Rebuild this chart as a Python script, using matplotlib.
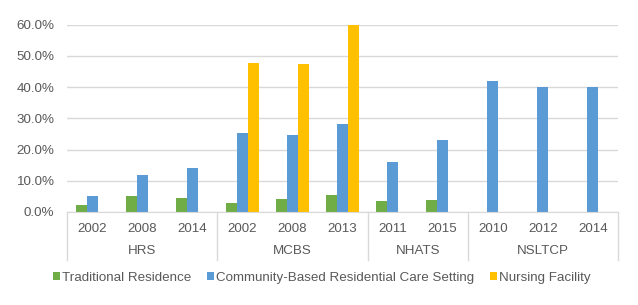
import matplotlib
matplotlib.use("Agg")
import matplotlib.pyplot as plt
from matplotlib.patches import Patch
from matplotlib.lines import Line2D
import numpy as np

plt.rcParams['font.family'] = ['Liberation Sans', 'DejaVu Sans']

years = ["2002", "2008", "2014", "2002", "2008", "2013", "2011", "2015", "2010", "2012", "2014"]
groups = ["HRS", "MCBS", "NHATS", "NSLTCP"]
group_sizes = [3, 3, 2, 3]
series_names = ["Traditional Residence", "Community-Based Residential Care Setting", "Nursing Facility"]
traditional = [2.1, 5.0, 4.4, 3.0, 4.2, 5.6, 3.6, 3.8, np.nan, np.nan, np.nan]
community = [5.0, 11.7, 14.0, 25.2, 24.8, 28.1, 16.1, 23.0, 41.9, 40.0, 40.0]
nursing = [np.nan, np.nan, np.nan, 47.7, 47.3, 60.0, np.nan, np.nan, np.nan, np.nan, np.nan]
colors = ["#70ad47", "#5b9bd5", "#ffc000"]
yticks = [0, 10, 20, 30, 40, 50, 60]

FS = 9.6
fig = plt.figure(figsize=(6.38, 3.05), dpi=100)
W, H = 638, 305
left, right, top, bottom = 67, 618, 24.7, 212
ax = fig.add_axes([left / W, 1 - bottom / H, (right - left) / W, (bottom - top) / H])

x = np.arange(len(years))
w = 0.22
for k, (vals, c) in enumerate(zip([traditional, community, nursing], colors)):
    ax.bar(x + (k - 1) * w, np.array(vals, dtype=float) / 100, width=w, color=c, zorder=3)

ax.set_xlim(-0.5, len(years) - 0.5)
ax.set_ylim(0, 0.6)
ax.set_yticks([v / 100 for v in yticks])
ax.set_yticklabels([f"{v:.1f}%" for v in yticks])
ax.tick_params(axis='y', length=0, labelsize=FS, colors="#595959", pad=9)
ax.set_xticks([])
ax.grid(axis='y', color="#d9d9d9", linewidth=1, zorder=0)
for s in ["left", "right", "top"]:
    ax.spines[s].set_visible(False)
ax.spines["bottom"].set_color("#d9d9d9")
ax.spines["bottom"].set_zorder(4)

ah = bottom - top
trans = ax.get_xaxis_transform()
for i, yr in enumerate(years):
    ax.text(i, -(228.5 - bottom) / ah, yr, transform=trans, ha='center', va='center',
            fontsize=FS, color="#595959")
start = 0
bounds = [0]
for g, n in zip(groups, group_sizes):
    center = start + (n - 1) / 2
    ax.text(center, -(251.5 - bottom) / ah, g, transform=trans, ha='center', va='center',
            fontsize=FS, color="#595959")
    start += n
    bounds.append(start)
for b in bounds:
    ax.add_line(Line2D([b - 0.5, b - 0.5], [0, -(259.5 - bottom) / ah], transform=trans,
                       color="#d9d9d9", linewidth=1, clip_on=False))

handles = [Patch(facecolor=c, edgecolor='none') for c in colors]
leg = fig.legend(handles, series_names, loc='center', bbox_to_anchor=(322 / W, 1 - 278 / H),
                 ncol=3, frameon=False, fontsize=FS, handlelength=0.5, handleheight=0.5,
                 handletextpad=0.15, columnspacing=1.2, borderaxespad=0)
for t in leg.get_texts():
    t.set_color("#595959")

fig.savefig("out.png", dpi=100)
